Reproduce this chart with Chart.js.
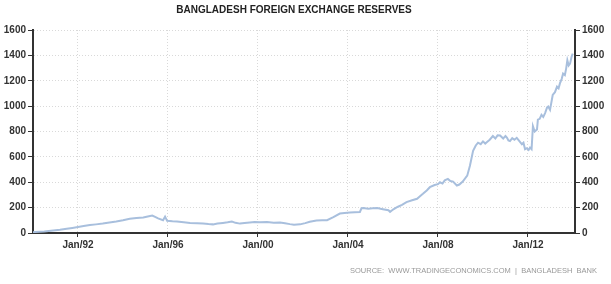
<!DOCTYPE html>
<html>
<head>
<meta charset="utf-8">
<script src="https://cdn.jsdelivr.net/npm/chart.js@4"></script>
<style>
  html, body { margin: 0; padding: 0; background: #fff; }
  #wrap { width: 611px; height: 284px; position: relative; }
</style>
</head>
<body>
<div id="wrap"><canvas id="myChart" width="611" height="284"></canvas></div>
<script>
// decimal years and values
const dates = [
  1990.00, 1990.09, 1990.50, 1990.90, 1991.20, 1991.50, 1991.75, 1992.00,
  1992.25, 1992.53, 1992.80, 1993.10, 1993.40, 1993.70, 1994.00, 1994.30,
  1994.60, 1994.90, 1995.10, 1995.30, 1995.45, 1995.56, 1995.78, 1995.87,
  1995.96, 1996.20, 1996.40, 1996.70, 1996.98, 1997.30, 1997.56, 1997.80,
  1998.00, 1998.20, 1998.44, 1998.65, 1998.84, 1999.00, 1999.20, 1999.40,
  1999.64, 1999.85, 2000.09, 2000.40, 2000.70, 2000.98, 2001.20, 2001.42,
  2001.60, 2001.87, 2002.10, 2002.30, 2002.60, 2002.85, 2003.07, 2003.35,
  2003.64, 2003.85, 2004.09, 2004.30, 2004.53, 2004.60, 2004.68, 2004.90,
  2005.10, 2005.30, 2005.55, 2005.80, 2005.87, 2006.00, 2006.20, 2006.40,
  2006.60, 2006.85, 2007.07, 2007.20, 2007.33, 2007.50, 2007.64, 2007.85,
  2008.00, 2008.09, 2008.20, 2008.30, 2008.44, 2008.55, 2008.67, 2008.84,
  2008.95, 2009.10, 2009.30, 2009.42, 2009.56, 2009.68, 2009.78, 2009.90,
  2010.00, 2010.10, 2010.18, 2010.30, 2010.44, 2010.55, 2010.65, 2010.76,
  2010.90, 2011.00, 2011.07, 2011.13, 2011.20, 2011.30, 2011.40, 2011.50,
  2011.60, 2011.73, 2011.80, 2011.87, 2011.95, 2012.03, 2012.09, 2012.16,
  2012.22, 2012.30, 2012.40, 2012.44, 2012.52, 2012.60, 2012.68, 2012.76,
  2012.85, 2012.90, 2012.98, 2013.10, 2013.20, 2013.29, 2013.36, 2013.42,
  2013.50, 2013.56, 2013.64, 2013.70, 2013.75, 2013.81, 2013.87, 2013.94,
  2013.99
];
const reserves = [
  6, 8, 12, 19, 25, 33, 40, 47,
  55, 63, 68, 74, 82, 90, 100, 112,
  118, 123, 130, 137, 125, 115, 101, 129,
  96, 92, 90, 84, 79, 76, 74, 70,
  68, 74, 79, 84, 90, 80, 74, 78,
  82, 86, 84, 86, 80, 82, 76, 70,
  66, 68, 78, 88, 99, 100, 101, 125,
  153, 158, 161, 164, 166, 195, 197, 192,
  195, 197, 188, 179, 166, 185, 205, 222,
  244, 258, 270, 290, 309, 335, 361, 378,
  385, 400, 390, 415, 426, 410, 405, 374,
  382, 405, 452, 530, 647, 690, 712, 700,
  722, 705, 717, 735, 764, 745, 770, 769,
  745, 765, 750, 730, 725, 748, 735, 750,
  728, 699, 712, 660, 668, 655, 673, 660,
  842, 800, 816, 894, 900, 932, 915, 945,
  990, 997, 971, 1088, 1110, 1153, 1140, 1179,
  1215, 1257, 1244, 1300, 1361, 1320, 1335, 1390,
  1413
];
const xTicks = [1992, 1996, 2000, 2004, 2008, 2012];
const yTicks = [0, 200, 400, 600, 800, 1000, 1200, 1400, 1600];

const titleText = 'BANGLADESH FOREIGN EXCHANGE RESERVES';
const sourceText = 'SOURCE:  WWW.TRADINGECONOMICS.COM  |  BANGLADESH  BANK';

const AXIS = '#333333';
const GRID = '#d9d9d9';
const LABEL_FONT = { family: 'Liberation Sans', size: 10, weight: 'bold' };

const points = dates.map((d, i) => ({ x: d, y: reserves[i] }));

// title + source line drawn on the canvas
const textPlugin = {
  id: 'texts',
  afterDraw(chart) {
    const c = chart.ctx;
    c.save();
    c.fillStyle = '#222';
    c.font = 'bold 10px "Liberation Sans"';
    c.textAlign = 'center';
    c.textBaseline = 'middle';
    c.fillText(titleText, 294, 10);
    c.fillStyle = '#999';
    c.font = '7.5px "Liberation Sans"';
    c.textAlign = 'right';
    c.fillText(sourceText, 597, 271);
    c.restore();
  }
};

const yAxis = (pos) => ({
  position: pos,
  min: 0,
  max: 1600,
  afterBuildTicks: s => { s.ticks = yTicks.map(v => ({ value: v })); },
  afterFit: s => { s.width = pos === 'left' ? 33 : 36; },
  ticks: { color: AXIS, font: LABEL_FONT, padding: 2, callback: v => String(v) },
  grid: {
    color: GRID,
    drawOnChartArea: pos === 'left',
    tickLength: 5,
    tickColor: AXIS,
    tickBorderDash: []
  },
  border: { color: AXIS, width: 2, dash: [1, 2] }
});

const ctx = document.getElementById('myChart').getContext('2d');

new Chart(ctx, {
  type: 'line',
  data: {
    datasets: [{
      data: points,
      borderColor: '#a8bfdd',
      borderWidth: 2,
      pointRadius: 0,
      tension: 0,
      fill: false
    }]
  },
  options: {
    responsive: false,
    animation: false,
    layout: { padding: { top: 30, bottom: 0, left: 0, right: 0 } },
    plugins: {
      legend: { display: false },
      tooltip: { enabled: false }
    },
    scales: {
      x: {
        type: 'linear',
        min: 1990,
        max: 2014.09,
        afterBuildTicks: s => { s.ticks = xTicks.map(v => ({ value: v })); },
        afterFit: s => { s.height = 51; },
        ticks: {
          color: AXIS,
          font: LABEL_FONT,
          padding: 2,
          maxRotation: 0,
          callback: v => 'Jan/' + String(v).slice(2)
        },
        grid: { color: GRID, tickLength: 4, tickColor: AXIS, tickBorderDash: [] },
        border: { color: AXIS, width: 2, dash: [1, 2] }
      },
      y: yAxis('left'),
      y2: yAxis('right')
    }
  },
  plugins: [textPlugin]
});
</script>
</body>
</html>
